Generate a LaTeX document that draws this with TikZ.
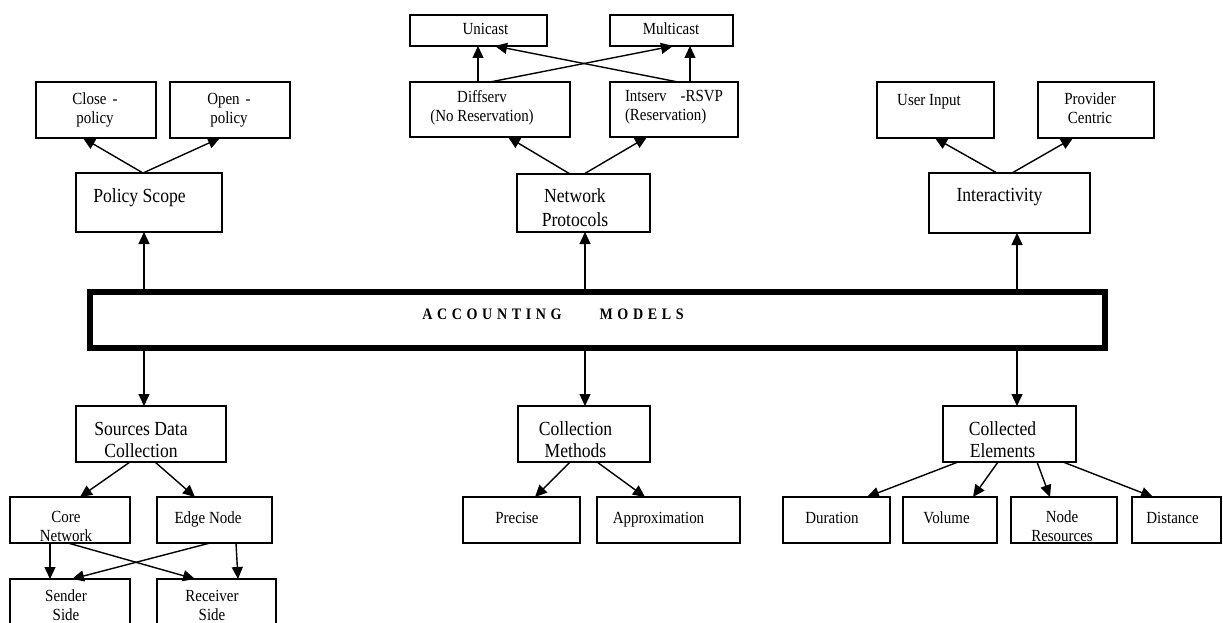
\documentclass[tikz,border=0pt]{standalone}
\usepackage{fontspec}
\setmainfont{Liberation Serif}[FakeStretch=0.88]
\usetikzlibrary{arrows.meta}
\tikzset{
  box/.style={draw, line width=1.6pt, inner sep=0pt, outer sep=0pt},
  sm/.style={inner sep=0pt, outer sep=0pt, align=center, font=\fontsize{17}{19}\selectfont},
  md/.style={inner sep=0pt, outer sep=0pt, align=center, font=\fontsize{20}{22}\selectfont},
  arr/.style={-{Triangle[length=12pt,width=11pt]}, line width=1.4pt},
  bigbox/.style={draw, line width=6pt, inner sep=0pt, outer sep=0pt},
  bigtxt/.style={inner sep=0pt, font=\bfseries\fontsize{16}{18}\selectfont},
}
\newcommand\bx[6][box]{\node[#1, minimum width={#5-#3}, minimum height={#6-#4}] (#2) at ({(#3+#5)/2},{(#4+#6)/2}) {};}
\newcommand\lsp{\hspace{4.6pt}}
\begin{document}
\begin{tikzpicture}[x=1pt,y=-1pt]
\useasboundingbox (0,0) rectangle (1223,623);
\clip (0,0) rectangle (1223,623);
% boxes
\bx{cp}{36}{82}{156}{138}
\bx{op}{170}{82}{290}{138}
\bx{ps}{76}{173}{222}{232}
\bx{uni}{410}{15}{547}{46}
\bx{mul}{610}{15}{733}{46}
\bx{dif}{410}{82}{570}{137}
\bx{int}{610}{82}{738}{137}
\bx{np}{517}{174}{650}{232}
\bx{ui}{877}{82}{994}{138}
\bx{pc}{1038}{82}{1154}{138}
\bx{ia}{929}{173}{1090}{233}
\bx[bigbox]{big}{90}{292}{1104.5}{348}
\bx{sdc}{76}{406}{226}{462}
\bx{cm}{518}{406}{650}{462}
\bx{ce}{943}{406}{1076}{462}
\bx{cn}{10}{497}{130}{543}
\bx{en}{157}{497}{272}{543}
\bx{ss}{10}{579}{130}{660}
\bx{rs}{157}{579}{276}{660}
\bx{pr}{463}{497}{580}{543}
\bx{ap}{597}{497}{740}{543}
\bx{du}{783}{497}{890}{543}
\bx{vo}{903}{497}{997}{543}
\bx{nr}{1011}{497}{1117}{543}
\bx{di}{1132}{497}{1221}{543}
% texts
\node[sm] (cpt) at (95,110) {Close\hspace{6pt}-\\policy};
\node[sm] (opt) at (229,110) {Open\hspace{6pt}-\\policy};
\node[md] (pst) at (139.5,198) {Policy Scope};
\node[sm] (unit) at (485.5,29) {Unicast};
\node[sm] (mult) at (671,29) {Multicast};
\node[sm] (dift) at (482,107.5) {Diffserv\\(No Reservation)};
\node[sm, align=left, anchor=west] (intt) at (625,107.5) {Intserv\hspace{14pt}-RSVP\\(Reservation)};
\node[md, font=\fontsize{20}{24}\selectfont] (npt) at (575,208) {Network\\Protocols};
\node[sm] (uit) at (929,101.5) {User Input};
\node[sm] (pct) at (1090,108.5) {Provider\\Centric};
\node[md] (iat) at (999.5,197.5) {Interactivity};
\node[bigtxt] (bigt) at (553,314.5) {A\lsp C\lsp C\lsp O\lsp U\lsp N\lsp T\lsp I\lsp N\lsp G\hspace{38pt}M\lsp O\lsp D\lsp E\lsp L\lsp S};
\node[md] (sdct) at (141,439.5) {Sources Data\\Collection};
\node[md] (cmt) at (575.5,439.5) {Collection\\Methods};
\node[md] (cet) at (1002.5,439.5) {Collected\\Elements};
\node[sm] (cnt) at (66,526) {Core\\Network};
\node[sm] (ent) at (208,519.5) {Edge Node};
\node[sm] (sst) at (66,605) {Sender\\Side};
\node[sm] (rst) at (212,605) {Receiver\\Side};
\node[sm] (prt) at (517,517.5) {Precise};
\node[sm] (apt) at (658.5,519.5) {Approximation};
\node[sm] (dut) at (832,517.5) {Duration};
\node[sm] (vot) at (946.5,517.5) {Volume};
\node[sm] (nrt) at (1062,526) {Node\\Resources};
\node[sm] (dit) at (1172.5,517.5) {Distance};
% connectors
\draw[arr] (ps.north -| 143,0) -- (cp.south -| 83,0);
\draw[arr] (ps.north -| 143,0) -- (op.south -| 220,0);
\draw[arr] (np.north -| 570,0) -- (dif.south -| 508,0);
\draw[arr] (np.north -| 584,0) -- (int.south -| 647,0);
\draw[arr] (dif.north -| 478,0) -- (uni.south -| 478,0);
\draw[arr] (dif.north -| 490,0) -- (mul.south -| 673,0);
\draw[arr] (int.north -| 678,0) -- (uni.south -| 495,0);
\draw[arr] (int.north -| 690,0) -- (mul.south -| 690,0);
\draw[arr] (ia.north -| 997,0) -- (ui.south -| 935,0);
\draw[arr] (ia.north -| 1012,0) -- (pc.south -| 1073,0);
\draw[arr] (big.north -| 144,0) -- (ps.south -| 144,0);
\draw[arr] (big.north -| 585,0) -- (np.south -| 585,0);
\draw[arr] (big.north -| 1017,0) -- (ia.south -| 1017,0);
\draw[arr] (big.south -| 144,0) -- (sdc.north -| 144,0);
\draw[arr] (big.south -| 585,0) -- (cm.north -| 585,0);
\draw[arr] (big.south -| 1017,0) -- (ce.north -| 1017,0);
\draw[arr] (sdc.south -| 130,0) -- (cn.north -| 80,0);
\draw[arr] (sdc.south -| 155,0) -- (en.north -| 195,0);
\draw[arr] (cn.south -| 50,0) -- (ss.north -| 50,0);
\draw[arr] (cn.south -| 68,0) -- (rs.north -| 195,0);
\draw[arr] (en.south -| 210,0) -- (ss.north -| 72,0);
\draw[arr] (en.south -| 236,0) -- (rs.north -| 238,0);
\draw[arr] (cm.south -| 570,0) -- (pr.north -| 535,0);
\draw[arr] (cm.south -| 597,0) -- (ap.north -| 645,0);
\draw[arr] (ce.south -| 958,0) -- (du.north -| 867,0);
\draw[arr] (ce.south -| 998,0) -- (vo.north -| 973,0);
\draw[arr] (ce.south -| 1037,0) -- (nr.north -| 1050,0);
\draw[arr] (ce.south -| 1063,0) -- (di.north -| 1153,0);
\end{tikzpicture}
\end{document}
